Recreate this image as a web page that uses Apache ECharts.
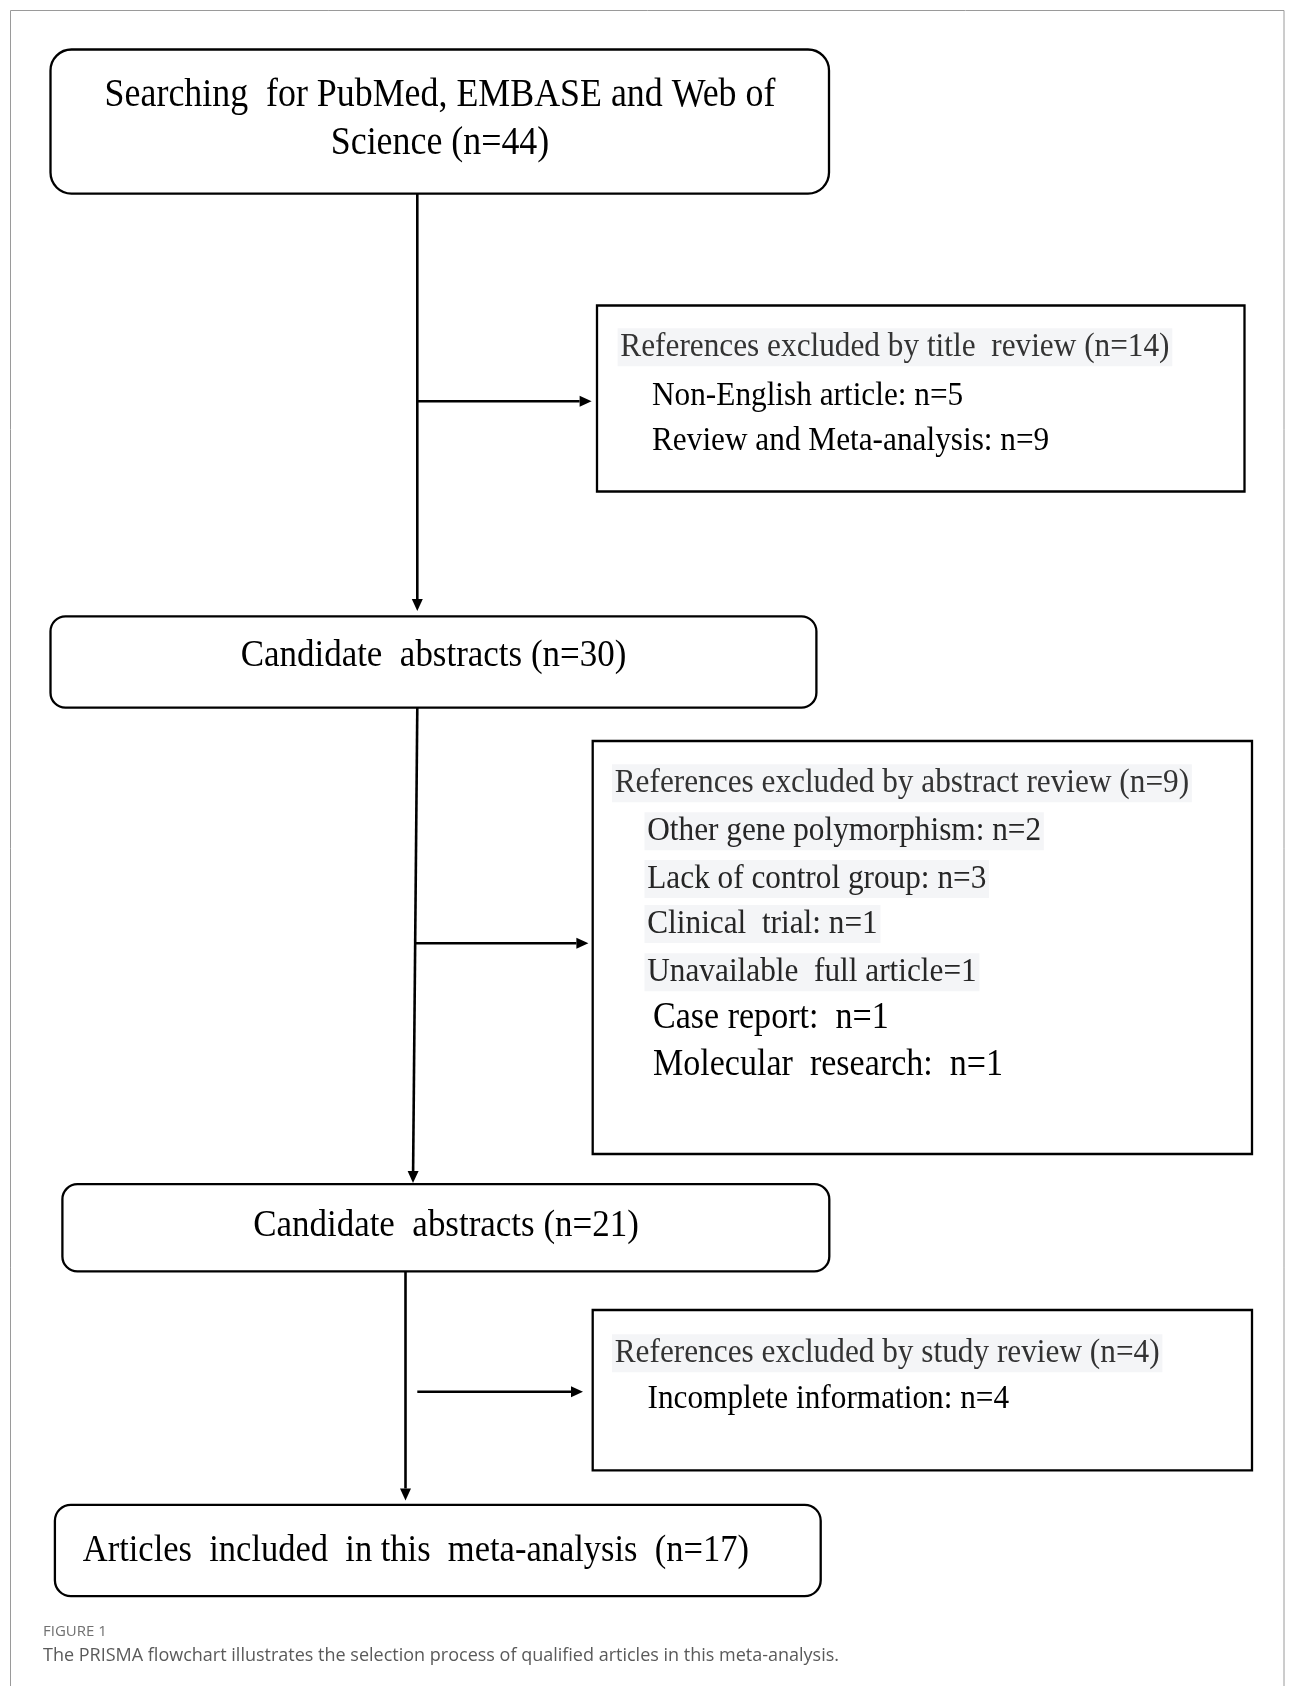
<!DOCTYPE html>
<html>
<head>
<meta charset="utf-8">
<title>PRISMA flowchart</title>
<script src="https://cdn.jsdelivr.net/npm/echarts@6/dist/echarts.min.js"></script>
<style>
  html, body { margin: 0; padding: 0; background: #fff; }
  #main { width: 1295px; height: 1686px; }
</style>
</head>
<body>
<div id="main"></div>
<script>
// ---- data ----
const mainSteps = [
  ['Searching  for PubMed, EMBASE and Web of', 'Science (n=44)'],
  ['Candidate  abstracts (n=30)'],
  ['Candidate  abstracts (n=21)'],
  ['Articles  included  in this  meta-analysis  (n=17)']
]
const exclusionHeads = [
  'References excluded by title  review (n=14)',
  'References excluded by abstract review (n=9)',
  'References excluded by study review (n=4)'
]
const exclusionReasons = [
  ['Non-English article: n=5', 'Review and Meta-analysis: n=9'],
  ['Other gene polymorphism: n=2', 'Lack of control group: n=3', 'Clinical  trial: n=1',
   'Unavailable  full article=1', 'Case report:  n=1', 'Molecular  research:  n=1'],
  ['Incomplete information: n=4']
]
const captionLabel = 'FIGURE 1'
const captionText = 'The PRISMA flowchart illustrates the selection process of qualified articles in this meta-analysis.'

// ---- layout (pixels of the 1295 x 1686 page, used as axis units) ----
const mainBoxRects = [[50.5, 49.5, 829, 193.6], [50.5, 616.3, 816.4, 707.7], [62.4, 1184.2, 829.3, 1271.4], [54.9, 1504.8, 820.7, 1596.2]]
const mainRadius = [21, 15, 15, 16]
const mainTextAnchor = [[440, 93.6], [433.5, 654], [446, 1224], [82.8, 1549]]
const mainFontSize = [39, 38, 38, 37.5]
const mainLineGap = 47.4
const exclRects = [[597, 305.5, 1244.5, 491.5], [592.7, 741, 1252, 1154], [592.7, 1310, 1252, 1470.4]]
const headAnchor = [[620.6, 345], [615, 781], [615, 1351]]
const reasonX = [[652, 652], [647.5, 647.5, 647.5, 647.5, 653, 653], [647.5]]
const reasonY = [[393.7, 438.8], [829, 876.6, 921.8, 970, 1016.4, 1062.7], [1397.2]]
const reasonKinds = [['plain', 'plain'], ['shaded', 'shaded', 'shaded', 'shaded', 'large', 'large'], ['plain']]
const connectors = [
  [417.3, 193.6, 417.3, 611], [417.3, 707.7, 413, 1183], [405.5, 1271.4, 405.5, 1500.5],
  [417.3, 401.2, 591.6, 401.2], [414, 943.3, 588.4, 943.3], [417.3, 1391.8, 583, 1391.8]
]
const textShiftY = 2.3 // serif 'middle' sits a touch high

const serif = '"Liberation Serif", "DejaVu Serif", serif'
const squeeze = 0.92 // the original type is a little condensed
const textKinds = {
  head:   { fontSize: 34, fill: '#333', backgroundColor: '#f4f5f7', padding: [2, 3] },
  shaded: { fontSize: 34, fill: '#262626', backgroundColor: '#f4f5f7', padding: [2, 3] },
  plain:  { fontSize: 34, fill: '#000' },
  large:  { fontSize: 37, fill: '#000' }
}

// flatten all the text lines
const textItems = []
mainSteps.forEach((lines, i) => {
  lines.forEach((t, j) => {
    textItems.push({
      text: t, x: mainTextAnchor[i][0], y: mainTextAnchor[i][1] + j * mainLineGap,
      style: { fontSize: mainFontSize[i], fill: '#000', align: i === 3 ? 'left' : 'center' }
    })
  })
})
exclusionHeads.forEach((t, i) => {
  textItems.push({ text: t, x: headAnchor[i][0] - 3, y: headAnchor[i][1], style: textKinds.head })
  exclusionReasons[i].forEach((r, j) => {
    const k = textKinds[reasonKinds[i][j]]
    textItems.push({ text: r, x: reasonX[i][j] - (k.padding ? 3 : 0), y: reasonY[i][j], style: k })
  })
})

const boxData = mainBoxRects.map((b, i) => b.concat(mainRadius[i])).concat(exclRects.map(b => b.concat(0)))

function renderBox(params, api) {
  const p0 = api.coord([api.value(0), api.value(1)])
  const p1 = api.coord([api.value(2), api.value(3)])
  return {
    type: 'rect',
    shape: { x: p0[0], y: p0[1], width: p1[0] - p0[0], height: p1[1] - p0[1], r: api.value(4) },
    style: { fill: '#fff', stroke: '#000', lineWidth: 2.3 }
  }
}

function renderArrow(params, api) {
  const a = api.coord([api.value(0), api.value(1)])
  const b = api.coord([api.value(2), api.value(3)])
  const dx = b[0] - a[0], dy = b[1] - a[1]
  const len = Math.sqrt(dx * dx + dy * dy)
  const ux = dx / len, uy = dy / len
  const head = 12, half = 5.5
  const base = [b[0] - ux * head, b[1] - uy * head]
  return {
    type: 'group',
    children: [
      { type: 'line', shape: { x1: a[0], y1: a[1], x2: base[0], y2: base[1] }, style: { stroke: '#000', lineWidth: 2.6 } },
      {
        type: 'polygon',
        shape: { points: [b, [base[0] - uy * half, base[1] + ux * half], [base[0] + uy * half, base[1] - ux * half]] },
        style: { fill: '#000' }
      }
    ]
  }
}

function renderText(params, api) {
  const item = textItems[params.dataIndex]
  const p = api.coord([api.value(0), api.value(1) + textShiftY])
  return {
    type: 'text',
    x: p[0],
    y: p[1],
    scaleX: squeeze,
    style: Object.assign({
      text: item.text,
      fontFamily: serif,
      align: 'left',
      verticalAlign: 'middle'
    }, item.style)
  }
}

const chart = echarts.init(document.getElementById('main'))
chart.setOption({
  animation: false,
  backgroundColor: '#fff',
  title: {
    text: captionLabel,
    subtext: captionText,
    left: 43,
    top: 1622.7,
    padding: 0,
    itemGap: 4,
    textStyle: { fontFamily: '"Open Sans", sans-serif', fontSize: 15, fontWeight: 'normal', color: '#707070', lineHeight: 18 },
    subtextStyle: { fontFamily: '"Open Sans", sans-serif', fontSize: 18, color: '#5a5a5a', lineHeight: 22 }
  },
  graphic: [{
    type: 'rect',
    shape: { x: 10.5, y: 10.5, width: 1273.5, height: 1700 },
    style: { fill: 'none', stroke: '#9a9a9a', lineWidth: 1 },
    silent: true
  }],
  grid: { left: 0, right: 0, top: 0, bottom: 0 },
  xAxis: { type: 'value', min: 0, max: 1295, show: false },
  yAxis: { type: 'value', min: 0, max: 1686, inverse: true, show: false },
  series: [
    { type: 'custom', name: 'connectors', data: connectors, renderItem: renderArrow, clip: false, silent: true },
    { type: 'custom', name: 'boxes', data: boxData, renderItem: renderBox, clip: false, silent: true },
    { type: 'custom', name: 'texts', data: textItems.map(t => [t.x, t.y]), renderItem: renderText, clip: false, silent: true }
  ]
})
</script>
</body>
</html>
